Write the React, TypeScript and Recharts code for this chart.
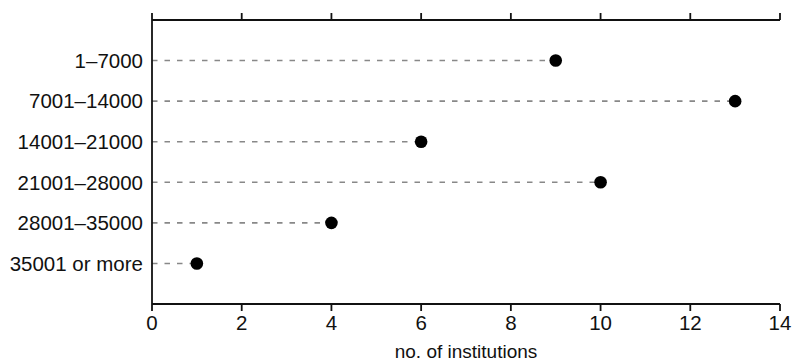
import { Label, ReferenceLine, Scatter, ScatterChart, XAxis, YAxis } from "recharts";

const categories = [
  "1–7000",
  "7001–14000",
  "14001–21000",
  "21001–28000",
  "28001–35000",
  "35001 or more",
];
const institutions = [9, 13, 6, 10, 4, 1];
const xTicks = [0, 2, 4, 6, 8, 10, 12, 14];
const rowTicks = [1, 2, 3, 4, 5, 6];

// top row sits highest, so row index runs downwards
const data = categories.map((label, i) => ({
  label,
  value: institutions[i],
  row: categories.length - i,
}));

const FONT = '"Liberation Sans", Arial, sans-serif';
const INK = "#111";
const frame = { stroke: INK, strokeWidth: 1.8 };

document.body.style.margin = "0";

export default function App() {
  return (
    <ScatterChart
      width={794}
      height={361}
      margin={{ top: 0, right: 14, bottom: 0, left: 0 }}
      style={{ fontFamily: FONT }}
    >
      <XAxis
        xAxisId="bottom"
        dataKey="value"
        type="number"
        domain={[0, 14]}
        ticks={xTicks}
        height={57}
        tickSize={7}
        tickMargin={4}
        axisLine={frame}
        tickLine={frame}
        tick={{ fontSize: 20.5, fill: INK, fontFamily: FONT }}
      >
        <Label
          value="no. of institutions"
          position="insideBottom"
          offset={3}
          style={{ fontSize: 19, fill: INK, fontFamily: FONT }}
        />
      </XAxis>
      {/* top axis: tick marks only, no labels */}
      <XAxis
        xAxisId="top"
        dataKey="value"
        orientation="top"
        type="number"
        domain={[0, 14]}
        ticks={xTicks}
        interval={0}
        height={20}
        tickSize={7}
        tick={() => <g />}
        axisLine={frame}
        tickLine={frame}
      />
      <YAxis
        yAxisId="left"
        dataKey="row"
        type="number"
        domain={[0, 7]}
        ticks={rowTicks}
        width={152}
        tickSize={0}
        tickMargin={9}
        tickLine={false}
        tickFormatter={(v: number) => categories[categories.length - v]}
        axisLine={frame}
        tick={{ fontSize: 20.5, fill: INK, fontFamily: FONT }}
      />
      <YAxis
        yAxisId="right"
        orientation="right"
        type="number"
        domain={[0, 7]}
        width={0}
        tick={false}
        tickLine={false}
        axisLine={frame}
      />
      {data.map((d) => (
        <ReferenceLine
          key={d.label}
          xAxisId="bottom"
          yAxisId="left"
          segment={[
            { x: 0, y: d.row },
            { x: d.value, y: d.row },
          ]}
          stroke="#888"
          strokeWidth={1.6}
          strokeDasharray="5.5 7"
        />
      ))}
      {/* invisible twin so the top axis has a series and draws its ticks */}
      <Scatter
        xAxisId="top"
        yAxisId="right"
        data={data}
        shape={() => <g />}
        isAnimationActive={false}
      />
      <Scatter
        xAxisId="bottom"
        yAxisId="left"
        data={data}
        fill="#000"
        shape={(p: any) => <circle cx={p.cx} cy={p.cy} r={6.3} fill="#000" />}
        isAnimationActive={false}
      />
    </ScatterChart>
  );
}
